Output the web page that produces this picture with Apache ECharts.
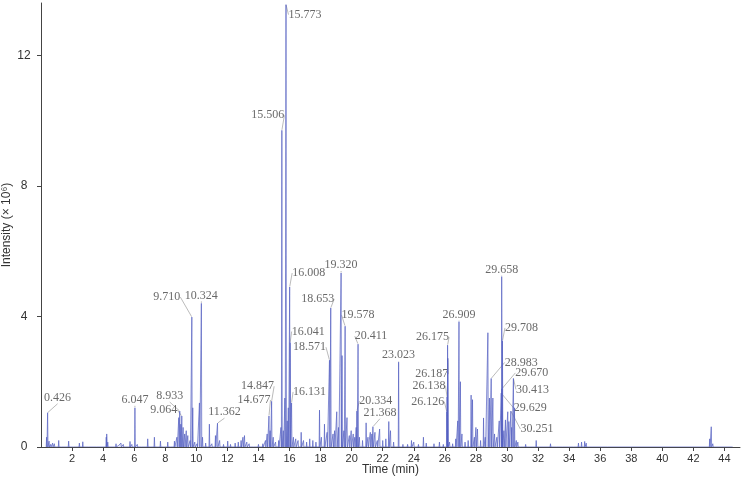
<!DOCTYPE html>
<html>
<head>
<meta charset="utf-8">
<script src="https://cdn.jsdelivr.net/npm/echarts@6/dist/echarts.min.js"></script>
<style>
	html, body { margin: 0; padding: 0; background: #fff; }
	#chart { width: 745px; height: 477px; }
</style>
</head>
<body>
<div id="chart"></div>
<script>
	// 保留时间 (min) 与峰高 (× 10^6)
	var times = [
		0.36, 0.426, 0.52, 0.62, 0.75, 0.86, 0.98, 1.14, 1.35, 1.78, 2.1, 2.47, 2.69, 3.1, 3.6,
		4.2, 4.23, 4.3, 4.6, 4.83, 5.0, 5.15, 5.3, 5.73, 5.85, 6.047, 6.2, 6.5, 6.87, 7.05,
		7.3, 7.5, 7.69, 7.9, 8.16, 8.35, 8.59, 8.75, 8.87, 8.933, 9.0, 9.064, 9.15, 9.25, 9.35,
		9.45, 9.6, 9.71, 9.77, 9.9, 10.05, 10.2, 10.324, 10.4, 10.6, 10.84, 11.0, 11.23, 11.362, 11.5,
		11.75, 12.02, 12.2, 12.5, 12.7, 12.88, 13.0, 13.1, 13.25, 13.4, 13.7, 14.0, 14.28, 14.45, 14.56,
		14.677, 14.75, 14.847, 14.95, 15.1, 15.3, 15.45, 15.506, 15.6, 15.7, 15.773, 15.85, 15.92, 16.008, 16.041,
		16.131, 16.25, 16.4, 16.55, 16.75, 16.9, 17.1, 17.3, 17.5, 17.7, 17.93, 18.05, 18.25, 18.42, 18.571,
		18.653, 18.8, 18.9, 19.04, 19.15, 19.32, 19.38, 19.5, 19.578, 19.7, 19.85, 19.97, 20.1, 20.2, 20.29,
		20.334, 20.411, 20.5, 20.7, 20.93, 21.05, 21.2, 21.3, 21.368, 21.5, 21.65, 21.8, 22.0, 22.2, 22.39,
		22.5, 22.7, 23.023, 23.3, 23.6, 23.85, 24.0, 24.3, 24.62, 24.8, 25.0, 25.3, 25.65, 25.9, 26.126,
		26.138, 26.175, 26.187, 26.3, 26.5, 26.7, 26.83, 26.909, 27.0, 27.1, 27.3, 27.5, 27.69, 27.78, 27.9,
		28.0, 28.1, 28.3, 28.49, 28.6, 28.77, 28.87, 28.983, 29.09, 29.2, 29.35, 29.5, 29.629, 29.658, 29.67,
		29.708, 29.8, 29.9, 30.05, 30.12, 30.251, 30.3, 30.413, 30.48, 30.6, 30.7, 30.9, 31.2, 31.5, 31.88,
		32.1, 32.4, 32.8, 33.2, 33.6, 34.0, 34.3, 34.6, 34.8, 35.0, 35.1, 35.5, 36.5, 38.0, 40.0,
		42.0, 43.05, 43.15, 43.25, 44.5
	];
	var heights = [
		0.3, 1.05, 0.18, 0.08, 0.12, 0.1, 0.06, 0.2, 0.05, 0.18, 0.04, 0.12, 0.16, 0.03, 0.03,
		0.3, 0.4, 0.15, 0.05, 0.1, 0.05, 0.12, 0.08, 0.17, 0.08, 1.2, 0.08, 0.05, 0.25, 0.06,
		0.3, 0.05, 0.18, 0.05, 0.15, 0.06, 0.18, 0.3, 0.9, 1.1, 0.7, 0.95, 0.6, 0.4, 0.5,
		0.35, 0.2, 3.98, 1.2, 0.15, 0.1, 1.35, 4.4, 0.3, 0.12, 0.7, 0.1, 0.35, 0.73, 0.2,
		0.08, 0.18, 0.08, 0.12, 0.15, 0.2, 0.3, 0.35, 0.15, 0.1, 0.06, 0.08, 0.1, 0.2, 0.4,
		0.95, 0.5, 1.4, 0.3, 0.15, 0.2, 0.6, 9.7, 0.5, 1.5, 13.55, 0.8, 1.2, 4.9, 3.2,
		1.35, 0.3, 0.25, 0.2, 0.45, 0.2, 0.15, 0.25, 0.2, 0.15, 1.13, 0.3, 0.7, 0.45, 2.66,
		4.26, 0.4, 0.5, 1.08, 0.6, 5.33, 2.8, 0.5, 3.7, 0.9, 0.35, 0.5, 0.4, 0.3, 0.6,
		1.1, 3.15, 0.3, 0.2, 0.74, 0.3, 0.45, 0.4, 0.62, 0.45, 0.2, 0.55, 0.2, 0.25, 0.78,
		0.5, 0.15, 2.6, 0.08, 0.08, 0.2, 0.15, 0.08, 0.3, 0.12, 0.06, 0.1, 0.15, 0.08, 1.08,
		1.54, 3.12, 2.72, 0.15, 0.1, 0.25, 0.8, 3.84, 2.0, 0.4, 0.15, 0.2, 1.59, 1.45, 0.3,
		0.6, 0.55, 0.2, 0.89, 0.3, 3.5, 1.5, 2.1, 1.5, 0.4, 0.3, 0.8, 1.65, 5.22, 1.78,
		3.25, 0.5, 0.83, 1.08, 0.78, 1.1, 0.6, 2.1, 1.2, 0.2, 0.15, 0.06, 0.08, 0.05, 0.2,
		0.06, 0.05, 0.1, 0.04, 0.03, 0.05, 0.04, 0.12, 0.15, 0.17, 0.12, 0.03, 0.02, 0.02, 0.02,
		0.02, 0.25, 0.62, 0.1, 0.01
	];

	// 标注峰：保留时间与标注点高度
	var markTimes = [
		0.426, 6.047, 8.933, 9.064, 9.710, 10.324, 11.362, 14.677, 14.847, 15.506, 15.773, 16.008,
		16.041, 16.131, 18.571, 18.653, 19.320, 19.578, 20.411, 20.334, 21.368, 23.023, 26.175, 26.187,
		26.138, 26.126, 26.909, 28.983, 29.658, 29.708, 29.670, 30.413, 29.629, 30.251
	];
	var markHeights = [
		1.05, 1.2, 1.1, 0.95, 3.98, 4.4, 0.73, 0.95, 1.4, 9.7, 13.55, 4.9,
		3.2, 1.35, 2.66, 4.26, 5.33, 3.7, 3.15, 1.1, 0.62, 2.6, 3.12, 2.72,
		1.54, 1.08, 3.84, 2.1, 5.22, 3.25, 1.78, 2.1, 1.65, 1.1
	];
	var xTicks = [2, 4, 6, 8, 10, 12, 14, 16, 18, 20, 22, 24, 26, 28, 30, 32, 34, 36, 38, 40, 42, 44];
	var yTicks = [0, 4, 8, 12];

	// 标签相对峰顶的偏移 (px)
	var labelShift = [
		[10, -15], [0, -8], [-10, -15], [-18, -6], [-25, -20], [0, -8], [7, -11], [-15, -16], [-14, -15], [-14, -15], [19, 10], [19, -14],
		[18, -11], [18, -11], [-20, -13], [-13, -9], [0, -8], [13, -11], [13, -8], [19, -10], [7, -14], [0, -7], [-15, -8], [-16, 16],
		[-18, -11], [-19, -10], [0, -7], [30, -16], [0, -7], [19, -13], [30, -16], [19, 11], [29, 15], [26, 18]
	];

	var hw = 0.025;
	var trace = [];
	for (var i = 0; i < times.length; i++) {
		trace.push([times[i] - hw, 0], [times[i], heights[i]], [times[i] + hw, 0]);
	}
	var marks = [];
	for (var j = 0; j < markTimes.length; j++) {
		marks.push([markTimes[j], markHeights[j]]);
	}

	var axisFont = { color: '#333', fontSize: 12, fontFamily: 'Liberation Sans' };

	var chart = echarts.init(document.getElementById('chart'));
	chart.setOption({
		animation: false,
		grid: { left: 41, right: 5, top: 3, bottom: 30, outerBoundsMode: 'none', containLabel: false },
		xAxis: {
			type: 'value',
			min: 0,
			max: 45,
			name: 'Time (min)',
			nameLocation: 'middle',
			nameGap: 17,
			nameMoveOverlap: false,
			nameTextStyle: axisFont,
			splitLine: { show: false },
			axisLine: { lineStyle: { color: '#444', width: 1 } },
			axisTick: { length: 4, customValues: xTicks, lineStyle: { color: '#444' } },
			axisLabel: { customValues: xTicks, margin: 6, color: '#333', fontSize: 11, fontFamily: 'Liberation Sans' }
		},
		yAxis: {
			type: 'value',
			min: 0,
			max: 13.6,
			name: 'Intensity (× 10⁶)',
			nameLocation: 'middle',
			nameGap: 28,
			nameMoveOverlap: false,
			nameTextStyle: axisFont,
			splitLine: { show: false },
			axisLine: { show: true, lineStyle: { color: '#444', width: 1 } },
			axisTick: { show: true, length: 4, customValues: yTicks, lineStyle: { color: '#444' } },
			axisLabel: { customValues: yTicks, margin: 17, align: 'center', color: '#333', fontSize: 12, fontFamily: 'Liberation Sans' }
		},
		series: [{
			type: 'line',
			data: trace,
			symbol: 'none',
			lineStyle: { color: '#5560c2', width: 0.7 },
			areaStyle: { color: 'rgba(90, 100, 200, 0.25)' },
			silent: true
		}, {
			type: 'scatter',
			data: marks,
			symbolSize: 1,
			itemStyle: { color: 'rgba(0,0,0,0)' },
			label: {
				show: true,
				position: 'inside',
				formatter: function (p) { return p.value[0].toFixed(3); },
				color: '#444',
				fontSize: 12,
				fontFamily: 'Liberation Serif'
			},
			labelLine: {
				show: true,
				length2: 0,
				lineStyle: { color: '#aaa', width: 0.8 }
			},
			labelLayout: function (p) {
				var s = labelShift[p.dataIndex];
				return { dx: s[0], dy: s[1] };
			}
		}]
	});
</script>
</body>
</html>
